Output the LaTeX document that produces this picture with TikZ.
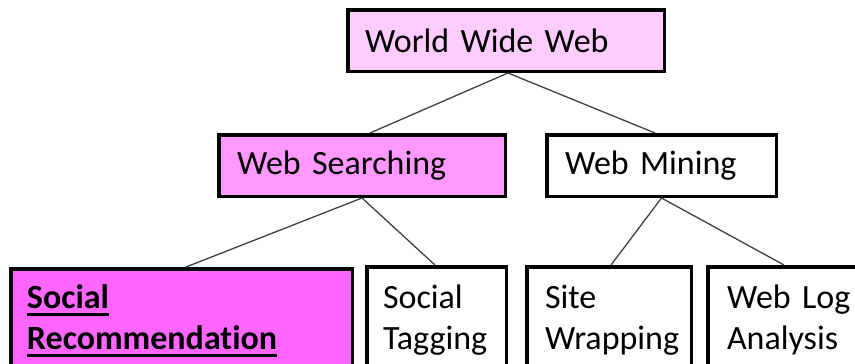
\documentclass[tikz,border=0pt]{standalone}
\usepackage{fontspec}
\setmainfont{Carlito}[Ligatures=NoCommon]
\usetikzlibrary{calc}
\newsavebox{\myulbox}
\newcommand\myul[1]{\sbox{\myulbox}{#1}\makebox[0pt][l]{\rule[-7pt]{\wd\myulbox}{2.6pt}}\usebox{\myulbox}}
\definecolor{pinkA}{HTML}{FFCCFF}
\definecolor{pinkB}{HTML}{FF99FF}
\definecolor{pinkC}{HTML}{FF66FF}
\definecolor{edgegray}{HTML}{404040}
\tikzset{
  box/.style={draw=black, line width=3.5pt, rectangle, inner ysep=0pt, align=left,
    font=\fontsize{34}{41}\selectfont, text=black},
  conn/.style={draw=edgegray, line width=1.3pt}
}
\begin{document}
\begin{tikzpicture}[x=1pt,y=-1pt]
\useasboundingbox (0,0) rectangle (855,364);
\clip (0,0) rectangle (855,364);
\fill[white] (0,0) rectangle (855,364);
% top
\node[box, fill=pinkA, minimum width=316.5pt, minimum height=61.5pt, inner xsep=17pt, text width=282pt] (www) at (506,40.5) {World Wide Web};
% middle
\node[box, fill=pinkB, minimum width=286.5pt, minimum height=61.5pt, inner xsep=18pt, text width=250pt] (ws) at (362,165.5) {Web Searching};
\node[box, fill=white, minimum width=229.5pt, minimum height=61.5pt, inner xsep=18pt, text width=193pt] (wm) at (661.5,165.5) {Web Mining};
% bottom
\node[box, fill=pinkC, minimum width=341.5pt, minimum height=104.5pt, inner xsep=16pt, text width=309pt] (sr) at (181.5,321) {\textbf{\myul{Social}}\\\textbf{\myul{Recommendation}}};
\node[box, fill=white, minimum width=139.5pt, minimum height=106.5pt, inner xsep=16pt, text width=107pt] (st) at (436.5,320) {Social\\Tagging};
\node[box, fill=white, minimum width=164.5pt, minimum height=106.5pt, inner xsep=18pt, text width=128pt] (sw) at (609,320) {Site\\Wrapping};
\node[box, fill=white, minimum width=152.5pt, minimum height=106.5pt, inner xsep=19pt, text width=114pt] (wla) at (784,320) {\mbox{Web Log}\\Analysis};
% connectors
\draw[conn] ($(www.south)+(2,0)$) -- ($(ws.north)+(8,0)$);
\draw[conn] ($(www.south)+(2,0)$) -- ($(wm.north)+(-6.5,0)$);
\draw[conn] (ws.south) -- ($(sr.north)+(4.5,0)$);
\draw[conn] (ws.south) -- ($(st.north)+(-1.5,0)$);
\draw[conn] (wm.south) -- ($(sw.north)+(2,0)$);
\draw[conn] (wm.south) -- (wla.north);
\end{tikzpicture}
\end{document}
